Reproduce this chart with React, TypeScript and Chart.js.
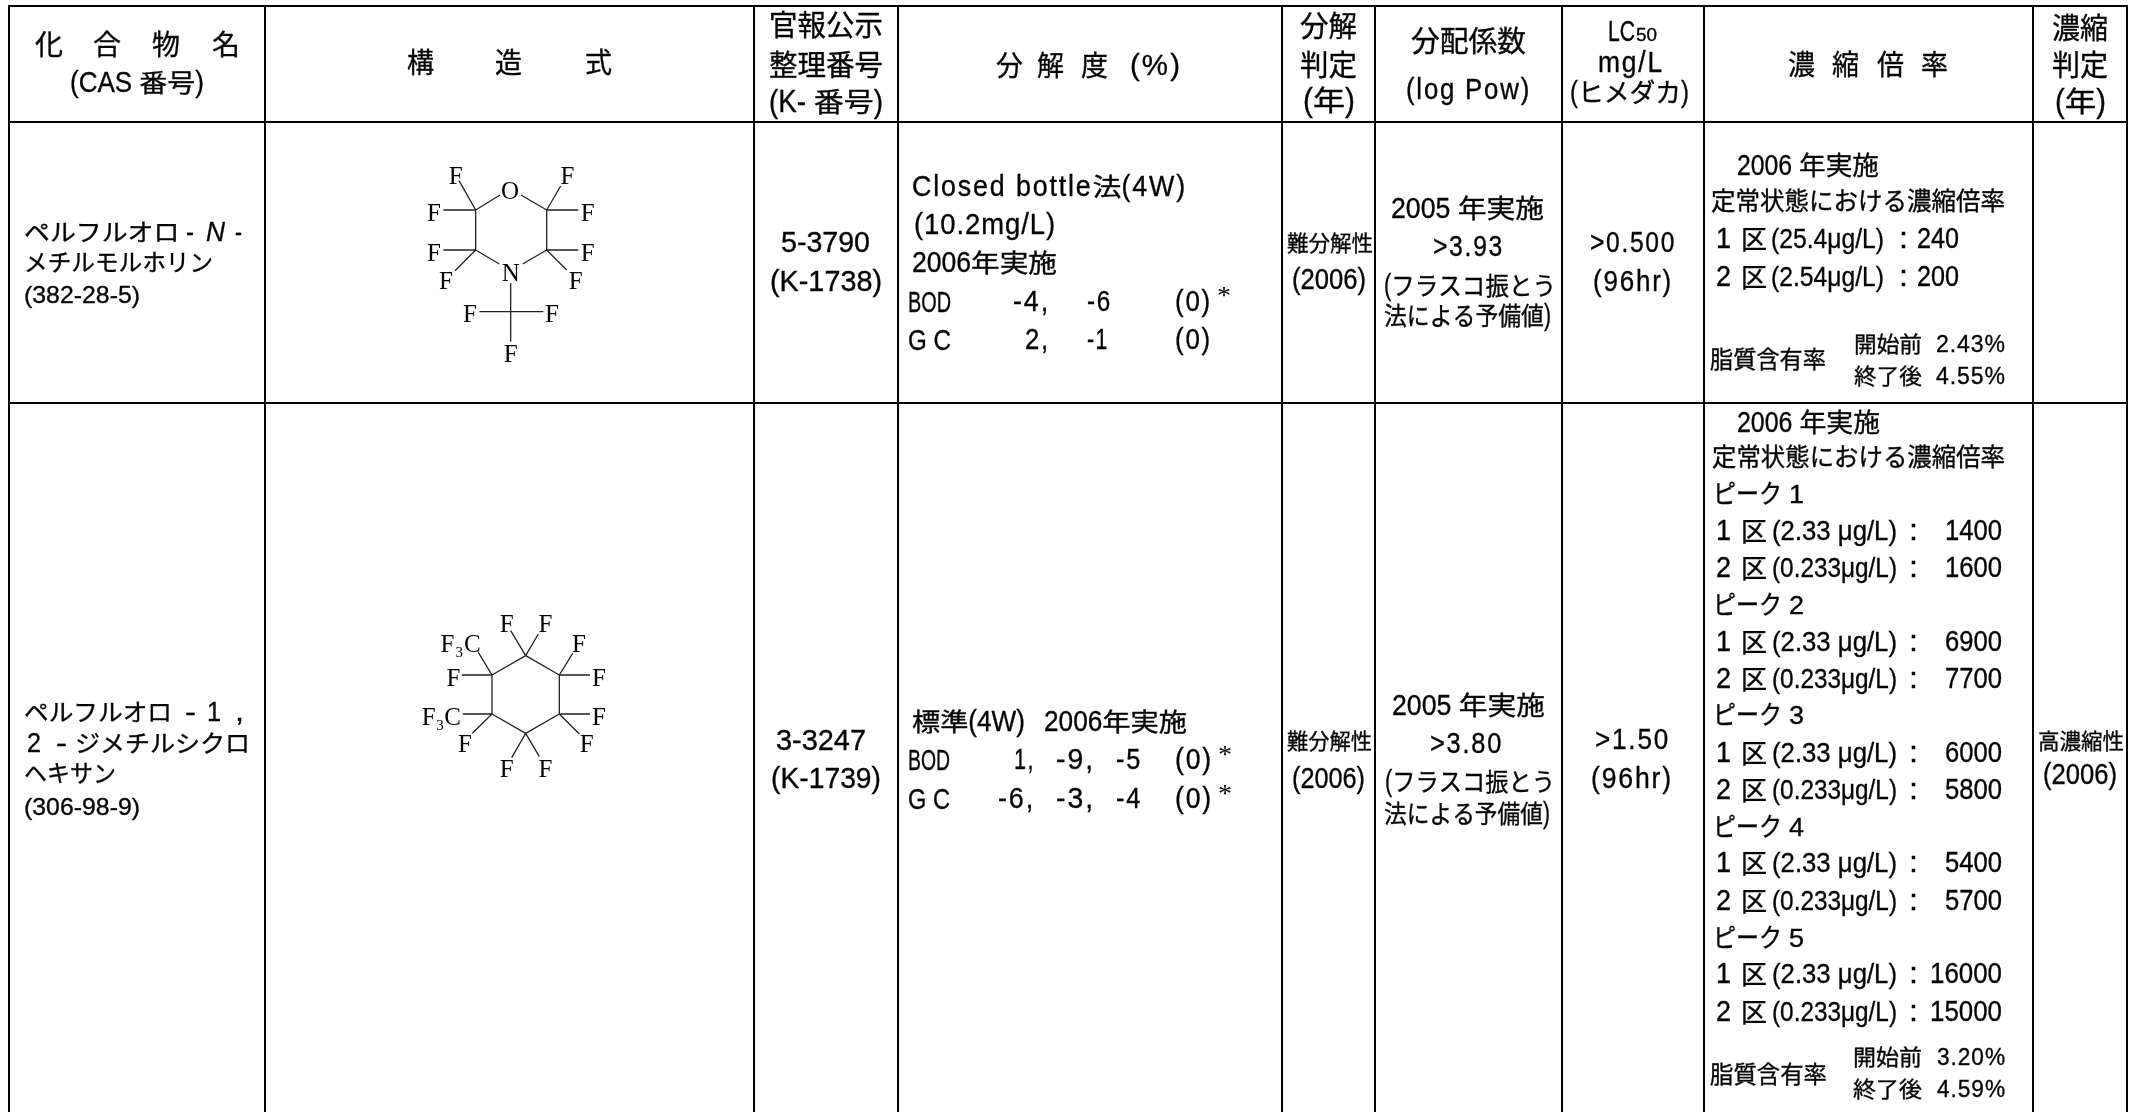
import React, { useEffect, useRef } from "react";
import { Chart, registerables } from "chart.js";

Chart.register(...registerables);

const LATIN = '"Liberation Sans",sans-serif';
const CJK = '"Noto Sans CJK JP",sans-serif';
const SANS = "sans";
const ITALIC = "italic";
const SERIF = '"Liberation Serif",serif';
const INK = "#050505";
const LATIN_SIZE = 1.16;
const LATIN_SQUEEZE = 0.8;

// table content
const compoundNames = ["ペルフルオロ -", "N", "-", "メチルモルホリン"];
const casNumbers = ["(382-28-5)", "(306-98-9)"];
const officialNumbers = ["5-3790", "3-3247"];
const kNumbers = ["(K-1738)", "(K-1739)"];
const logPow = [">3.93", ">3.80"];
const lc50 = [">0.500", ">1.50"];
const peakLabels = ["1", "2", "3", "4", "5"];
const peakArea1 = ["1400", "6900", "6000", "5400", "16000"];
const peakArea2 = ["1600", "7700", "5800", "5700", "15000"];
const peakRowY = [[494, 531, 568], [605, 642, 679], [715, 753, 790], [827, 863, 901], [938, 974, 1012]];

// table rules
const verticalRules = [9, 265, 754, 898, 1282, 1375, 1562, 1704, 2033, 2127];
const horizontalRules = [6, 122, 403];

// structure bonds, in the units of a local grid
const morpholineBonds = [
  [257,180,330,135],[393,135,470,180],[257,180,257,300],[470,180,470,300],[257,300,328,342],[398,342,470,300],
  [257,180,207,92],[257,180,160,180],[470,180,512,108],[470,180,565,180],[257,300,160,300],[257,300,195,362],
  [470,300,565,300],[470,300,530,360],[362,400,362,575],[268,485,460,485],
];
const morpholineAtoms: [string, number, number][] = [
  ["F",197,77],["F",132,187],["F",532,77],["F",593,187],["F",132,308],["F",168,392],["F",593,308],["F",557,392],
  ["F",240,490],["F",486,490],["F",362,610],["O",360,122],["N",362,368],
];
const cyclohexaneBonds = [
  [306,255,407,197],[407,197,508,255],[508,255,508,372],[508,372,407,430],[407,430,306,372],[306,372,306,255],
  [306,255,265,187],[306,255,215,255],[407,197,362,122],[407,197,445,132],[508,255,548,190],[508,255,600,255],
  [508,372,600,372],[508,372,568,432],[407,430,365,503],[407,430,448,500],[306,372,218,372],[306,372,247,430],
];
const cyclohexaneAtoms: [string, number, number][] = [
  ["F",350,102],["F",466,102],["F",567,160],["F",190,262],["F",627,262],["F",627,380],["F",225,460],["F",590,460],
  ["F",350,535],["F",466,535],["F",172,160],["C",247,160],["F",116,380],["C",188,380],
];
const cyclohexaneSubs: [string, number, number][] = [["3",208,186],["3",150,406]];

type Run = { x: number; y: number; x1: number | null; text: string; size: number; font: string; ls: number };
const runs: Run[] = [];
const R = (text: string, x: number, x1: number | null, y: number, size: number, ls = 0, font = SANS) =>
  runs.push({ text, x, x1, y, size, ls, font });

// header
R("化", 35, 63, 45, 28); R("合", 93, 121, 45, 28); R("物", 152, 180, 45, 28); R("名", 212, 240, 45, 28);
R("(CAS 番号)", 70, 204, 83, 25);
R("構", 407, 434, 63, 28); R("造", 495, 522, 63, 28); R("式", 585, 612, 63, 28);
R("官報公示", 769, 883, 25, 29); R("整理番号", 769, 883, 65, 29); R("(K- 番号)", 769, 883, 102, 27);
R("分", 996, 1023, 66, 28); R("解", 1037, 1064, 66, 28); R("度", 1081, 1108, 66, 28); R("(%)", 1130, 1182, 66, 25, 2);
R("分解", 1300, 1357, 26, 29); R("判定", 1300, 1357, 65, 29); R("(年)", 1303, 1355, 101, 28);
R("分配係数", 1411, 1526, 41, 29); R("(log Pow)", 1406, 1531, 90, 25, 2);
R("LC", 1608, 1635, 32, 25); R("50", 1636, 1657, 35, 16); R("mg/L", 1598, 1664, 63, 25, 2); R("(ヒメダカ)", 1570, 1689, 92, 26);
R("濃", 1788, 1815, 65, 28); R("縮", 1832, 1859, 65, 28); R("倍", 1877, 1904, 65, 28); R("率", 1921, 1948, 65, 28);
R("濃縮", 2052, 2108, 28, 29); R("判定", 2052, 2108, 65, 29); R("(年)", 2055, 2106, 102, 28);

// row 1
R(compoundNames[0], 24, 194, 232, 24); R(compoundNames[1], 206, 225, 232, 24, 0, ITALIC); R(compoundNames[2], 235, 242, 232, 24);
R(compoundNames[3], 24, 213, 262, 24); R(casNumbers[0], 24, 140, 295, 21);
R(officialNumbers[0], 781, 870, 243, 25); R(kNumbers[0], 770, 882, 282, 25);
R("Closed bottle法(4W)", 912, 1187, 187, 25, 2); R("(10.2mg/L)", 914, 1056, 225, 25, 1); R("2006年実施", 912, 1057, 263, 25);
R("BOD", 908, 951, 302, 26); R("-4,", 1013, 1050, 302, 25, 2); R("-6", 1087, 1112, 302, 25, 2); R("(0)", 1175, 1212, 302, 25, 2); R("*", 1217, 1231, 294, 26, 0, SERIF);
R("G C", 908, 951, 340, 26); R("2,", 1025, 1050, 340, 25, 2); R("-1", 1087, 1109, 340, 25, 2); R("(0)", 1175, 1212, 340, 25, 2);
R("難分解性", 1287, 1373, 243, 22); R("(2006)", 1292, 1366, 280, 25);
R("2005 年実施", 1391, 1544, 208, 26); R(logPow[0], 1433, 1504, 247, 25, 2); R("(フラスコ振とう", 1384, 1556, 286, 25); R("法による予備値)", 1384, 1551, 316, 25);
R(lc50[0], 1590, 1676, 243, 25, 2); R("(96hr)", 1593, 1673, 282, 25, 2);
R("2006 年実施", 1737, 1879, 165, 26); R("定常状態における濃縮倍率", 1711, 2005, 201, 25);
R("1", 1716, 1731, 239, 25); R("区", 1741, 1767, 239, 26); R("(25.4μg/L)", 1771, 1884, 239, 24); R(":", 1899, 1908, 239, 25); R("240", 1917, 1959, 239, 25);
R("2", 1716, 1731, 277, 25); R("区", 1741, 1767, 277, 26); R("(2.54μg/L)", 1771, 1884, 277, 24); R(":", 1899, 1908, 277, 25); R("200", 1917, 1959, 277, 25);
R("脂質含有率", 1710, 1826, 359, 24);
R("開始前", 1854, 1922, 344, 22); R("2.43%", 1936, 2006, 344, 21, 1); R("終了後", 1854, 1922, 376, 22); R("4.55%", 1936, 2006, 376, 21, 1);

// row 2
R("ペルフルオロ", 24, 172, 712, 24); R("-", 185, 196, 712, 24); R("1", 207, 221, 712, 24); R(",", 235, 244, 712, 24);
R("2", 27, 41, 743, 24); R("-", 56, 67, 743, 24); R("ジメチルシクロ", 75, 250, 743, 24);
R("ヘキサン", 24, 116, 773, 24); R(casNumbers[1], 24, 140, 807, 21);
R(officialNumbers[1], 776, 866, 741, 25); R(kNumbers[1], 771, 881, 779, 25);
R("標準(4W)", 912, 1025, 722, 25); R("2006年実施", 1044, 1187, 722, 25);
R("BOD", 908, 950, 760, 26); R("1,", 1014, 1035, 760, 25, 2); R("-9,", 1056, 1095, 760, 25, 2); R("-5", 1116, 1142, 760, 25, 2); R("(0)", 1175, 1213, 760, 25, 2); R("*", 1218, 1232, 753, 26, 0, SERIF);
R("G C", 908, 950, 799, 26); R("-6,", 998, 1035, 799, 25, 2); R("-3,", 1056, 1095, 799, 25, 2); R("-4", 1116, 1142, 799, 25, 2); R("(0)", 1175, 1213, 799, 25, 2); R("*", 1218, 1232, 792, 26, 0, SERIF);
R("難分解性", 1287, 1372, 741, 22); R("(2006)", 1292, 1365, 779, 25);
R("2005 年実施", 1392, 1545, 705, 26); R(logPow[1], 1430, 1503, 744, 25, 2); R("(フラスコ振とう", 1385, 1555, 782, 25); R("法による予備値)", 1384, 1550, 814, 25);
R(lc50[1], 1595, 1670, 740, 25, 2); R("(96hr)", 1591, 1673, 779, 25, 2);
R("2006 年実施", 1737, 1880, 422, 26); R("定常状態における濃縮倍率", 1712, 2005, 457, 25);
peakLabels.forEach((p, i) => {
  const [yp, y1, y2] = peakRowY[i];
  R("ピーク", 1713, 1782, yp - 1, 26); R(p, 1789, 1804, yp, 23);
  const lastX = peakArea1[i].length > 4 ? 1930 : 1945;
  R("1", 1716, 1731, y1, 25); R("区", 1741, 1767, y1, 26); R("(2.33 μg/L)", 1772, 1897, y1, 24); R(":", 1909, 1918, y1, 25); R(peakArea1[i], lastX, 2002, y1, 25);
  R("2", 1716, 1731, y2, 25); R("区", 1741, 1767, y2, 26); R("(0.233μg/L)", 1772, 1897, y2, 24); R(":", 1909, 1918, y2, 25); R(peakArea2[i], lastX, 2002, y2, 25);
});
R("脂質含有率", 1710, 1827, 1074, 24);
R("開始前", 1853, 1922, 1057, 22); R("3.20%", 1937, 2006, 1057, 21, 1); R("終了後", 1853, 1922, 1089, 22); R("4.59%", 1937, 2006, 1089, 21, 1);
R("高濃縮性", 2038, 2124, 741, 22); R("(2006)", 2043, 2117, 775, 25);

// structure labels
const mx = (v: number) => 390 + v / 3;
const my = (v: number) => 150 + v / 3;
const cx = (v: number) => 390 + v / 3;
const cy = (v: number) => 590 + v / 3;
morpholineAtoms.forEach(([t, x, y]) => R(t, mx(x), null, my(y), 25, 0, SERIF));
cyclohexaneAtoms.forEach(([t, x, y]) => R(t, cx(x), null, cy(y), 25, 0, SERIF));
cyclohexaneSubs.forEach(([t, x, y]) => R(t, cx(x), null, cy(y), 15, 0, SERIF));

const segs = (list: number[][]) => {
  const out: { x: number; y: number }[] = [];
  list.forEach(([a, b, c, d]) => { out.push({ x: a, y: b }, { x: c, y: d }, { x: NaN, y: NaN }); });
  return out;
};
const ruleLines = [
  ...verticalRules.map((x) => [x, 5, x, 1112]),
  ...horizontalRules.map((y) => [8, y, 2128, y]),
];
const bondLines = [
  ...morpholineBonds.map(([a, b, c, d]) => [mx(a), my(b), mx(c), my(d)]),
  ...cyclohexaneBonds.map(([a, b, c, d]) => [cx(a), cy(b), cx(c), cy(d)]),
];

const isLatin = (s: string) => /^[\x00-\x7Fμ]/.test(s);

const textPlugin = {
  id: "tableText",
  afterDatasetsDraw(chart: any) {
    const meta = chart.getDatasetMeta(2);
    const ctx = chart.ctx;
    ctx.save();
    ctx.fillStyle = INK;
    ctx.strokeStyle = INK;
    ctx.lineWidth = 0.35;
    ctx.textBaseline = "alphabetic";
    meta.data.forEach((el: any, i: number) => {
      const r = runs[i];
      if (r.x1 === null) {
        ctx.letterSpacing = "0px";
        ctx.font = `${r.size}px ${r.font}`;
        ctx.textAlign = "center";
        ctx.fillText(r.text, el.x, el.y + r.size * 0.33);
        return;
      }
      ctx.textAlign = "left";
      const parts: string[] = r.text.match(/[\x00-\x7Fμ]+|[^\x00-\x7Fμ]+/g) || [];
      const setup = (p: string) => {
        if (r.font === SERIF) { ctx.font = `${r.size}px ${SERIF}`; ctx.letterSpacing = "0px"; return 1; }
        if (r.font === ITALIC) { ctx.font = `italic ${r.size * LATIN_SIZE}px ${LATIN}`; ctx.letterSpacing = "0px"; return LATIN_SQUEEZE; }
        if (isLatin(p)) { ctx.font = `${r.size * LATIN_SIZE}px ${LATIN}`; ctx.letterSpacing = `${r.ls}px`; return LATIN_SQUEEZE; }
        ctx.font = `${r.size}px ${CJK}`; ctx.letterSpacing = "0px"; return 1;
      };
      let total = 0;
      parts.forEach((p) => { const f = setup(p); total += ctx.measureText(p).width * f; });
      const target = chart.scales.x.getPixelForValue(r.x1) - el.x;
      const s = target / total;
      let cursor = el.x;
      const base = el.y + r.size * 0.37;
      parts.forEach((p) => {
        const f = setup(p);
        const w = ctx.measureText(p).width * f * s;
        ctx.save();
        ctx.translate(cursor, base);
        ctx.scale(f * s, 1);
        ctx.fillText(p, 0, 0);
        if (r.font !== SERIF) ctx.strokeText(p, 0, 0);
        ctx.restore();
        cursor += w;
      });
    });
    ctx.restore();
  },
};

export default function App() {
  const ref = useRef<HTMLCanvasElement>(null);
  useEffect(() => {
    const chart = new Chart(ref.current as HTMLCanvasElement, {
      type: "scatter",
      data: {
        datasets: [
          { data: segs(ruleLines), showLine: true, spanGaps: false, borderColor: "#000", borderWidth: 2, pointRadius: 0 },
          { data: segs(bondLines), showLine: true, spanGaps: false, borderColor: "#222", borderWidth: 1.3, pointRadius: 0 },
          { data: runs.map((r) => ({ x: r.x, y: r.y })), showLine: false, pointRadius: 0 },
        ],
      },
      options: {
        animation: false,
        responsive: false,
        layout: { padding: 0 },
        plugins: { legend: { display: false }, tooltip: { enabled: false } },
        scales: {
          x: { type: "linear", min: 0, max: 2136, display: false },
          y: { type: "linear", min: 0, max: 1112, reverse: true, display: false },
        },
      },
      plugins: [textPlugin],
    } as any);
    return () => chart.destroy();
  }, []);
  return (
    <div style={{ position: "absolute", left: 0, top: 0, width: 2136, height: 1112, background: "#fff", overflow: "hidden" }}>
      <canvas ref={ref} width={2136} height={1112} style={{ display: "block" }} />
    </div>
  );
}
